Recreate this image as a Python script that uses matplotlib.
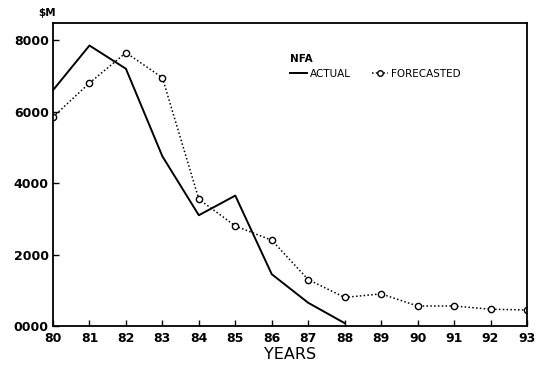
import numpy as np
import matplotlib.pyplot as plt
from matplotlib.lines import Line2D

# NFA, actual vs forecasted ($M)
years = np.arange(80, 94)
actual_years = np.arange(80, 89)
actual = [6600, 7850, 7200, 4750, 3100, 3650, 1450, 650, 80]
forecast = [5850, 6800, 7650, 6950, 3550, 2800, 2400, 1300, 800, 900, 560, 560, 470, 450]
y_ticks = [0, 2000, 4000, 6000, 8000]
y_tick_labels = ['0000', '2000', '4000', '6000', '8000']

fig = plt.figure(figsize=(5.38, 3.74), dpi=100)
ax = fig.add_axes([0.0985, 0.1283, 0.881, 0.8102])

ax.plot(actual_years, actual, color='black', lw=1.4, label='ACTUAL')
ax.plot(years, forecast, color='black', lw=1.1, ls=(0, (1, 1.5)),
        marker='o', ms=4.5, mfc='white', mec='black', mew=1.0,
        label='FORECASTED')

ax.set_xlim(80, 93)
ax.set_ylim(0, 8480)
ax.set_xticks(years)
ax.set_xticklabels([str(y) for y in years])
ax.set_yticks(y_ticks)
ax.set_yticklabels(y_tick_labels)
ax.tick_params(direction='in', length=4, width=1, labelsize=9)
ax.tick_params(axis='x', pad=4)
ax.tick_params(axis='y', pad=3)
for lab in ax.get_xticklabels() + ax.get_yticklabels():
    lab.set_fontweight('bold')

for s in ax.spines.values():
    s.set_linewidth(1.3)

ax.set_xlabel('YEARS', fontsize=11.5, labelpad=2)
fig.text(0.072, 0.965, '$M', fontsize=7.5, fontweight='bold', va='center')

handles = [Line2D([], [], color='black', lw=1.4),
           Line2D([], [], color='black', lw=1.1, ls=(0, (1, 1.5)),
                  marker='o', ms=4, mfc='white', mec='black')]
leg = ax.legend(handles, ['ACTUAL', 'FORECASTED'], title='NFA', ncol=2,
                frameon=False, loc='upper left', bbox_to_anchor=(0.48, 0.93),
                fontsize=7.5, title_fontsize=7.5, handlelength=1.6,
                handletextpad=0.3, columnspacing=2.0)
leg.get_title().set_fontweight('bold')
leg._legend_box.align = 'left'

fig.savefig('out.png', dpi=100)
